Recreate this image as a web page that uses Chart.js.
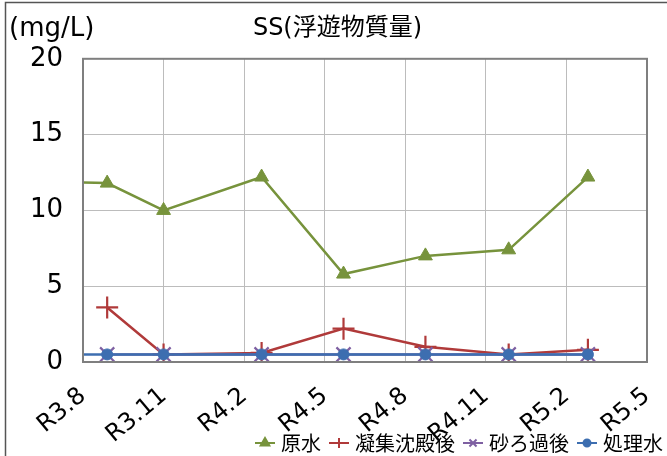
<!DOCTYPE html>
<html>
<head>
<meta charset="utf-8">
<script src="https://cdn.jsdelivr.net/npm/chart.js@4.4.1/dist/chart.umd.min.js"></script>
<style>
  html, body { margin: 0; padding: 0; background: #fff; }
  #wrap { width: 667px; height: 456px; position: relative; }
</style>
</head>
<body>
<div id="wrap"><canvas id="c" width="667" height="456"></canvas></div>
<script>
// Sampling dates, in months counted from R3.8 (the first sample lies before the axis start)
const sampleMonths = [-2.2, 0.9, 3.0, 6.65, 9.7, 12.75, 15.85, 18.8];
// SS (mg/L) per treatment stage
const rawWater      = [11.95, 11.8, 10.0, 12.2, 5.8, 7.0, 7.4, 12.2];  // 原水
const afterSettling = [null, 3.6, 0.5, 0.6, 2.2, 1.0, 0.5, 0.8];       // 凝集沈殿後
const afterSand     = [null, 0.5, 0.5, 0.5, 0.5, 0.5, 0.5, 0.5];       // 砂ろ過後
const treatedWater  = [0.5, 0.5, 0.5, 0.5, 0.5, 0.5, 0.5, 0.5];        // 処理水
// Axis ticks, every three months
const tickLabels = ['R3.8', 'R3.11', 'R4.2', 'R4.5', 'R4.8', 'R4.11', 'R5.2', 'R5.5'];
const seriesNames = ['原水', '凝集沈殿後', '砂ろ過後', '処理水'];

const FONT = '"DejaVu Sans", "Noto Sans CJK JP", sans-serif';
const CJK = '"Noto Sans CJK JP", "Noto Sans", sans-serif';
const COLORS = ['#77933C', '#B03A3A', '#7E60A2', '#3D6EB0'];
const STYLES = ['triangle', 'cross', 'crossRot', 'circle'];
const RADII = [8, 11, 10, 5.5];
const PAD_RIGHT = -8, PAD_BOTTOM = -7;   // let the legend reach the canvas edge
const PLOT_BOTTOM = 362;

function points(values) {
  return sampleMonths.map((m, i) => ({ x: m, y: values[i] }));
}

// Legend symbols: a short line with the series marker in the middle
function legendIcon(i) {
  const cv = document.createElement('canvas');
  cv.width = 22; cv.height = 14;
  const ctx = cv.getContext('2d');
  ctx.strokeStyle = COLORS[i];
  ctx.fillStyle = COLORS[i];
  ctx.lineWidth = 2;
  ctx.beginPath(); ctx.moveTo(1, 7); ctx.lineTo(21, 7); ctx.stroke();
  Chart.helpers.drawPoint(ctx, {
    pointStyle: STYLES[i], radius: i === 3 ? 3.5 : 5, borderWidth: 1.5, rotation: 0
  }, 11, 7);
  return cv;
}

const frame = {
  id: 'frame',
  afterLayout(chart) {
    // rotated date labels may run down beside the legend
    chart.scales.x.bottom = chart.height;
  },
  beforeDraw(chart) {
    const ctx = chart.ctx;
    ctx.save();
    ctx.strokeStyle = '#555';
    ctx.lineWidth = 1.5;
    ctx.strokeRect(5.5, 2.5, 700, 500);
    ctx.restore();
  },
  afterDraw(chart) {
    const ctx = chart.ctx;
    const a = chart.chartArea;
    ctx.save();
    ctx.strokeStyle = '#7f7f7f';
    ctx.lineWidth = 2;
    ctx.strokeRect(a.left, a.top, a.right - a.left, a.bottom - a.top);
    ctx.fillStyle = '#000';
    ctx.font = '26px ' + FONT;
    ctx.textBaseline = 'middle';
    ctx.textAlign = 'left';
    ctx.fillText('(mg/L)', 9, 29);
    ctx.restore();
  }
};

const datasets = [rawWater, afterSettling, afterSand, treatedWater].map((vals, i) => ({
  label: seriesNames[i],
  data: points(vals),
  borderColor: COLORS[i],
  backgroundColor: COLORS[i],
  borderWidth: 2.5,
  pointStyle: STYLES[i],
  pointRadius: RADII[i],
  pointBorderWidth: i === 1 || i === 2 ? 2.2 : 1,
  pointBackgroundColor: COLORS[i],
  tension: 0,
  spanGaps: false,
  order: [4, 3, 2, 1][i]
}));

new Chart(document.getElementById('c'), {
  type: 'line',
  data: { datasets },
  options: {
    responsive: false,
    animation: false,
    layout: { padding: { left: 0, right: PAD_RIGHT, top: 0, bottom: PAD_BOTTOM } },
    plugins: {
      tooltip: { enabled: false },
      title: {
        display: true,
        text: 'SS(浮遊物質量)',
        color: '#000',
        font: { family: FONT, size: 24, weight: 'normal', lineHeight: 1.2 },
        padding: { top: 14, bottom: 16 }
      },
      legend: {
        display: true,
        position: 'bottom',
        align: 'end',
        sort: (a, b) => a.datasetIndex - b.datasetIndex,
        labels: {
          color: '#000',
          font: { family: CJK, size: 20 },
          usePointStyle: true,
          pointStyleWidth: 12,
          boxHeight: 12,
          padding: 12,
          generateLabels(chart) {
            return chart.data.datasets.map((ds, i) => ({
              text: ds.label,
              pointStyle: legendIcon(i),
              fillStyle: COLORS[i],
              strokeStyle: COLORS[i],
              fontColor: '#000',
              lineWidth: 0,
              hidden: false,
              datasetIndex: i
            }));
          }
        }
      }
    },
    scales: {
      x: {
        type: 'linear',
        min: 0,
        max: 21,
        grid: { color: '#bcbcbc', lineWidth: 1, drawTicks: false },
        border: { display: false },
        ticks: {
          stepSize: 3,
          autoSkip: false,
          minRotation: 40,
          maxRotation: 40,
          padding: 20,
          color: '#000',
          font: { family: FONT, size: 24 },
          callback: (v) => tickLabels[Math.round(v / 3)]
        },
        afterFit(scale) {
          const lh = scale.chart.legend ? scale.chart.legend.height : 30;
          scale.height = scale.chart.height - PAD_BOTTOM - PLOT_BOTTOM - lh;
          scale.paddingLeft = 0;
          scale.paddingRight = 0;
        }
      },
      y: {
        min: 0,
        max: 20,
        grid: { color: '#bcbcbc', lineWidth: 1, drawTicks: false },
        border: { display: false },
        ticks: {
          stepSize: 5,
          padding: 20,
          color: '#000',
          font: { family: FONT, size: 26 }
        },
        afterFit(scale) { scale.width = 83; }
      },
      yR: {
        position: 'right',
        display: true,
        grid: { display: false, drawTicks: false },
        border: { display: false },
        ticks: { display: false },
        afterFit(scale) { scale.width = 20 - PAD_RIGHT; }
      }
    }
  },
  plugins: [frame]
});
</script>
</body>
</html>
